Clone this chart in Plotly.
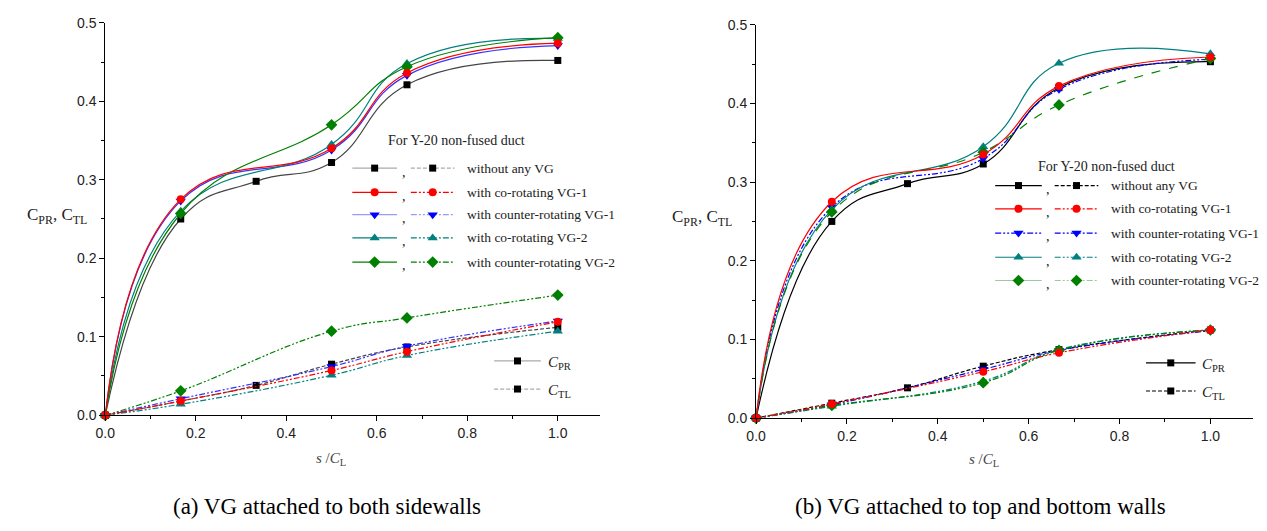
import plotly.graph_objects as go

WIN_W, WIN_H = 1267, 531
OFF = 8                      # default body margin of the page
W, H = WIN_W - OFF, WIN_H - 2 * OFF

# ---------------- data ----------------
X_BASE = [0, 1/6, 1/3, 1/2, 2/3, 1]      # "without any VG" has the extra 1/3 station
X_VG = [0, 1/6, 1/2, 2/3, 1]

SERIES = ["without any VG", "with co-rotating VG-1", "with counter-rotating VG-1",
          "with co-rotating VG-2", "with counter-rotating VG-2"]

# (a) VG attached to both sidewalls
A_PR_NONE = [0, 0.250, 0.298, 0.322, 0.421, 0.452]
A_PR_CO1 = [0, 0.275, 0.340, 0.436, 0.474]
A_PR_CT1 = [0, 0.273, 0.338, 0.433, 0.471]
A_PR_CO2 = [0, 0.260, 0.345, 0.448, 0.480]
A_PR_CT2 = [0, 0.257, 0.370, 0.444, 0.481]
A_TL_NONE = [0, 0.018, 0.038, 0.065, 0.087, 0.112]
A_TL_CO1 = [0, 0.018, 0.057, 0.081, 0.119]
A_TL_CT1 = [0, 0.021, 0.062, 0.088, 0.120]
A_TL_CO2 = [0, 0.014, 0.051, 0.076, 0.107]
A_TL_CT2 = [0, 0.031, 0.107, 0.124, 0.153]

# (b) VG attached to top and bottom walls
B_PR_NONE = [0, 0.250, 0.298, 0.323, 0.420, 0.453]
B_PR_CO1 = [0, 0.275, 0.335, 0.422, 0.459]
B_PR_CT1 = [0, 0.268, 0.330, 0.418, 0.456]
B_PR_CO2 = [0, 0.265, 0.345, 0.451, 0.463]
B_PR_CT2 = [0, 0.262, 0.338, 0.398, 0.457]
B_TL_NONE = [0, 0.019, 0.0385, 0.066, 0.087, 0.112]
B_TL_CO1 = [0, 0.018, 0.059, 0.083, 0.112]
B_TL_CT1 = [0, 0.017, 0.062, 0.086, 0.111]
B_TL_CO2 = [0, 0.015, 0.047, 0.087, 0.112]
B_TL_CT2 = [0, 0.016, 0.045, 0.086, 0.112]

X_TICKS = [0.0, 0.2, 0.4, 0.6, 0.8, 1.0]
Y_TICKS = [0.0, 0.1, 0.2, 0.3, 0.4, 0.5]

CAPTIONS = ["(a) VG attached to both sidewalls", "(b) VG attached to top and bottom walls"]
LEGEND_TITLE = "For Y-20 non-fused duct"

# ---------------- styles ----------------
DDD = "6px,2px,2px,2px,2px,2px"   # dash-dot-dot
SHORTDASH = "4px,2px"
SYMBOLS = ["square", "circle", "triangle-down", "triangle-up", "diamond"]
MSIZE = [7, 8, 9, 9, 9]
MCOL = ["#000000", "#ff0000", "#0000ff", "#008080", "#008000"]
SERIF = "Liberation Serif"
SANS = "Liberation Sans"

fig = go.Figure()

def add_panel(xa, ya, pr, tl, pr_dash, tl_dash, line_cols, order):
    for i in order:
        xs = X_BASE if i == 0 else X_VG
        for ys, dash in ((pr[i], pr_dash[i]), (tl[i], tl_dash[i])):
            fig.add_trace(go.Scatter(
                x=xs, y=ys, xaxis=xa, yaxis=ya, mode="lines+markers",
                line=dict(color=line_cols[i], width=1.2, dash=dash, shape="spline", smoothing=1.3),
                marker=dict(symbol=SYMBOLS[i], size=MSIZE[i], color=MCOL[i]),
                showlegend=False, hoverinfo="skip", cliponaxis=False))

ORDER = [0, 2, 3, 4, 1]
add_panel("x", "y",
          [A_PR_NONE, A_PR_CO1, A_PR_CT1, A_PR_CO2, A_PR_CT2],
          [A_TL_NONE, A_TL_CO1, A_TL_CT1, A_TL_CO2, A_TL_CT2],
          ["solid"] * 5, [SHORTDASH, DDD, DDD, DDD, DDD],
          ["#444444", "#ff0000", "#3333ff", "#008080", "#008000"], ORDER)
add_panel("x2", "y2",
          [B_PR_NONE, B_PR_CO1, B_PR_CT1, B_PR_CO2, B_PR_CT2],
          [B_TL_NONE, B_TL_CO1, B_TL_CT1, B_TL_CO2, B_TL_CT2],
          ["solid", "solid", DDD, "solid", "dash"], [SHORTDASH, DDD, DDD, DDD, DDD],
          ["#000000", "#ff0000", "#0000ff", "#008080", "#008000"], ORDER)

# ---------------- legend glyphs (window-pixel overlay axes) ----------------
annots = []

def glyph(x0, x1, y, color, dash, i):
    fig.add_trace(go.Scatter(x=[x0, x1], y=[y, y], xaxis="x3", yaxis="y3", mode="lines",
                             line=dict(color=color, width=1.2, dash=dash),
                             showlegend=False, hoverinfo="skip", cliponaxis=False))
    fig.add_trace(go.Scatter(x=[(x0 + x1) / 2], y=[y], xaxis="x3", yaxis="y3", mode="markers",
                             marker=dict(symbol=SYMBOLS[i], size=MSIZE[i], color=MCOL[i]),
                             showlegend=False, hoverinfo="skip", cliponaxis=False))

def text(x, y, s, size=13, anchor="left", color="#222222", family=SERIF):
    annots.append(dict(x=x, y=y, xref="x3", yref="y3", text=s, showarrow=False,
                       xanchor=anchor, yanchor="middle",
                       font=dict(family=family, size=size, color=color)))

def big_legend(x_s, x_d, comma_x, text_x, rows_y, title_xy, styles):
    text(title_xy[0], title_xy[1], LEGEND_TITLE, 14, "center")
    for i, y in enumerate(rows_y):
        (c1, d1), (c2, d2) = styles[i]
        glyph(x_s[0], x_s[1], y, c1, d1, i)
        glyph(x_d[0], x_d[1], y, c2, d2, i)
        text(comma_x, y + 4, ",", 14, "center")
        text(text_x, y, SERIES[i], 13.5, "left")

big_legend((345, 390), (404, 448), 397, 459, [165, 190, 213, 237, 262], (450, 137),
           [(("#aaaaaa", "solid"), ("#aaaaaa", SHORTDASH)),
            (("#ff0000", "solid"), ("#ff0000", DDD)),
            (("#9999ff", "solid"), ("#9999ff", DDD)),
            (("#008080", "solid"), ("#008080", DDD)),
            (("#008000", "solid"), ("#008000", DDD))])
big_legend((993, 1040), (1053, 1097), 1046, 1108, [183, 207, 232, 257, 281], (1105, 163),
           [(("#000000", "solid"), ("#000000", SHORTDASH)),
            (("#ff0000", "solid"), ("#ff0000", DDD)),
            (("#0000ff", DDD), ("#0000ff", DDD)),
            (("#008080", "solid"), ("#008080", DDD)),
            (("#99cc99", "solid"), ("#99cc99", DDD))])

PR_LABEL = "<i>C</i><sub>PR</sub>"
TL_LABEL = "<i>C</i><sub>TL</sub>"
for (x0, x1, tx, y1, y2, col) in [(488, 535, 540, 364, 393, "#aaaaaa"),
                                  (1145, 1195, 1199, 366, 395, "#000000")]:
    glyph(x0, x1, y1, col, "solid", 0)
    glyph(x0, x1, y2, col, SHORTDASH, 0)
    text(tx, y1 + 2, PR_LABEL, 15, "left")
    text(tx, y2 + 2, TL_LABEL, 15, "left")

# axis titles and captions
YT = "C<sub>PR</sub>, C<sub>TL</sub>"
text(47, 214, YT, 17, "center")
text(697, 216, YT, 17, "center")
XT = "<i>s</i> /<i>C</i><sub>L</sub>"
text(323, 465, XT, 15, "center", "#444444")
text(982, 466, XT, 15, "center", "#444444")
text(477, 514, CAPTIONS[0], 23, "right", "#000000")
text(1167, 514, CAPTIONS[1], 23, "right", "#000000")

# ---------------- axes ----------------
def fx(px):  # window pixel -> paper fraction
    return (px - OFF) / W

def fy(py):
    return 1 - (py - OFF) / H

def xax(d0, d1, anchor):
    return dict(domain=[fx(d0), fx(d1)], range=[0, 1.094], anchor=anchor,
                tickvals=X_TICKS, tickformat=".1f", ticks="outside", ticklen=5,
                tickcolor="#000", showline=True, linecolor="#000", linewidth=1,
                showgrid=False, zeroline=False, fixedrange=True,
                minor=dict(dtick=0.1, tick0=0, ticks="outside", ticklen=3, tickcolor="#000"),
                tickfont=dict(family=SANS, size=14, color="#222"))

def yax(top, bottom, anchor):
    return dict(domain=[fy(bottom), fy(top)], range=[0, 0.5], anchor=anchor,
                tickvals=Y_TICKS, tickformat=".1f", ticks="outside", ticklen=5,
                tickcolor="#000", showline=True, linecolor="#000", linewidth=1,
                showgrid=False, zeroline=False, fixedrange=True,
                minor=dict(dtick=0.05, tick0=0, ticks="outside", ticklen=3, tickcolor="#000"),
                tickfont=dict(family=SANS, size=14, color="#222"))

fig.update_layout(
    width=W, height=H, autosize=False,
    margin=dict(l=0, r=0, t=0, b=0),
    paper_bgcolor="white", plot_bgcolor="rgba(0,0,0,0)",
    xaxis=xax(96, 595, "y"), yaxis=yax(15, 420, "x"),
    xaxis2=xax(752, 1253, "y2"), yaxis2=yax(17, 423, "x2"),
    xaxis3=dict(domain=[0, 1], range=[OFF, OFF + W], visible=False, anchor="y3", fixedrange=True),
    yaxis3=dict(domain=[0, 1], range=[OFF + H, OFF], visible=False, anchor="x3", fixedrange=True),
    annotations=annots,
    showlegend=False,
)

fig.write_html("out.html", config={"displayModeBar": False})
